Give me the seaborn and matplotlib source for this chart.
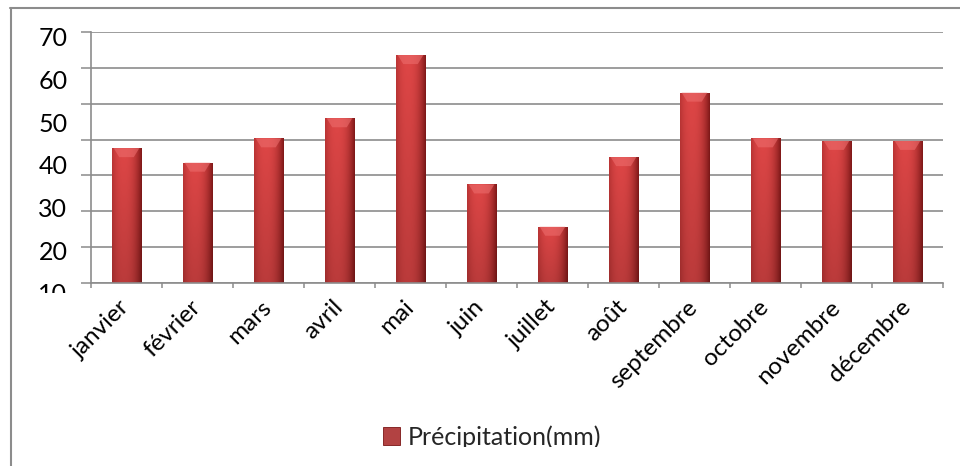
import numpy as np
import matplotlib
matplotlib.use("Agg")
import matplotlib.pyplot as plt
import seaborn as sns
from matplotlib.patches import Rectangle, Polygon
from matplotlib.lines import Line2D
from matplotlib.colors import to_rgb

# ---- data ----
months = ["janvier", "février", "mars", "avril", "mai", "juin", "juillet",
          "août", "septembre", "octobre", "novembre", "décembre"]
precip = [43.9, 40.5, 46.2, 50.9, 65.7, 35.4, 25.5, 41.8, 56.9, 46.2, 45.6, 45.6]
y_labels = [10, 20, 30, 40, 50, 60, 70]
series_name = "Précipitation(mm)"

sns.set_theme(style="white")
plt.rcParams["font.family"] = ["Lato", "DejaVu Sans"]

W, H = 960, 466
fig = plt.figure(figsize=(W / 100, H / 100), dpi=100)
fig.patch.set_facecolor("white")


def fx(px):
    return px / W


def fy(py):
    return 1 - py / H


GRAY = "#8c8c8c"
ax_l, ax_r, ax_t, ax_b = 91, 943, 32, 283
lab_t, lab_b = 36.7, 292.9

# label axis (tick labels only)
axl = fig.add_axes([fx(ax_l), fy(lab_b), fx(ax_r - ax_l), (lab_b - lab_t) / H])
axl.patch.set_visible(False)
for s in axl.spines.values():
    s.set_visible(False)
axl.set_xticks([])
axl.set_ylim(min(y_labels), max(y_labels))
axl.set_yticks(y_labels, labels=[str(v) for v in y_labels])
axl.tick_params(axis="y", left=True, length=0, pad=17, labelsize=18, labelcolor="black")
clip_rect = Rectangle((0, fy(293)), 1, 1, transform=fig.transFigure)
for t in axl.yaxis.get_major_ticks():
    t.label1.set_clip_path(clip_rect)

ppu = (lab_b - lab_t) / (max(y_labels) - min(y_labels))
ylo = min(y_labels) + (lab_b - ax_b) / ppu
yhi = max(y_labels) + (lab_t - ax_t) / ppu

# main axis
ax = fig.add_axes([fx(ax_l), fy(ax_b), fx(ax_r - ax_l), (ax_b - ax_t) / H])
ax.patch.set_visible(False)
sns.barplot(x=months, y=precip, color="#c43030", width=0.41, ax=ax,
            label=series_name, zorder=2)

# gradient shading for bars
edge = np.array(to_rgb("#801818"))
light = np.array(to_rgb("#de4646"))
t = np.linspace(0, 1, 80)
prof = 1 - np.clip(np.abs(t - 0.4) / 0.6, 0, 1) ** 2.4
row = edge[None, :] * (1 - prof[:, None]) + light[None, :] * prof[:, None]
vert = np.linspace(1.0, 0.84, 80)
img = row[None, :, :] * vert[:, None, None]
img = np.clip(img, 0, 1)

cap_dy = 9 / ppu
for p in list(ax.patches):
    x0, w, h = p.get_x(), p.get_width(), p.get_height()
    im = ax.imshow(img, extent=(x0, x0 + w, ylo, h), origin="upper",
                   aspect="auto", interpolation="bilinear", zorder=2.5)
    im.set_clip_path(p)
    cap = Polygon([(x0 + 0.06 * w, h), (x0 + 0.94 * w, h),
                   (x0 + 0.75 * w, h - cap_dy), (x0 + 0.25 * w, h - cap_dy)],
                  closed=True, facecolor="#ec6c6c", edgecolor="none",
                  alpha=0.6, zorder=2.6)
    ax.add_patch(cap)
    p.set_edgecolor("#7a1515")
    p.set_linewidth(0.6)

ax.set_xlim(-0.5, len(months) - 0.5)
ax.set_ylim(ylo, yhi)
ax.set_aspect("auto")

ax.set_yticks(np.linspace(ylo, yhi, 8), labels=[""] * 8)
ax.yaxis.grid(True, color=GRAY, linewidth=1.2, zorder=0)
ax.set_axisbelow(True)
ax.tick_params(axis="y", left=True, length=7.2, width=1.1, color=GRAY)

ax.set_xticks(range(len(months)), labels=months)
ax.set_xticks(np.arange(-0.5, len(months), 1), minor=True)
ax.tick_params(axis="x", which="major", bottom=True, length=0, pad=15,
               labelsize=17.5, labelcolor="black")
ax.tick_params(axis="x", which="minor", bottom=True, length=3.8, width=1.1, color=GRAY)
for lbl in ax.get_xticklabels():
    lbl.set_rotation(45)
    lbl.set_ha("right")
    lbl.set_va("center")
    lbl.set_rotation_mode("anchor")

for s in ["top", "right"]:
    ax.spines[s].set_visible(False)
for s in ["left", "bottom"]:
    ax.spines[s].set_color(GRAY)
    ax.spines[s].set_linewidth(1.2)
ax.set_xlabel("")
ax.set_ylabel("")
if ax.get_legend():
    ax.get_legend().remove()

# legend
handles, labels = ax.get_legend_handles_labels()
leg = fig.legend(handles, labels, loc="center", bbox_to_anchor=(fx(492), fy(437)),
                 frameon=False, fontsize=18, handlelength=0.7, handleheight=0.7,
                 handletextpad=0.3, borderpad=0)
legclip = Rectangle((0, fy(447)), 1, 1, transform=fig.transFigure)
for txt in leg.get_texts():
    txt.set_clip_path(legclip)

# outer border (top and left visible)
fig.add_artist(Line2D([fx(10), 1], [fy(8), fy(8)], transform=fig.transFigure,
                      color=GRAY, linewidth=1.5))
fig.add_artist(Line2D([fx(11), fx(11)], [fy(8), 0], transform=fig.transFigure,
                      color=GRAY, linewidth=1.5))

fig.savefig("out.png", dpi=100, facecolor="white")
